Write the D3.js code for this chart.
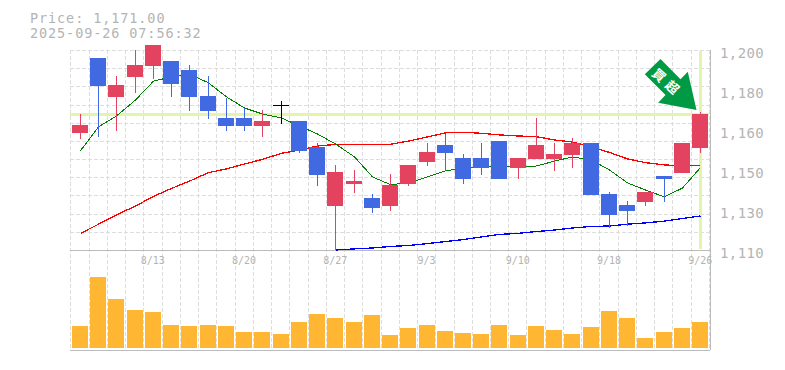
<!DOCTYPE html>
<html>
<head>
<meta charset="utf-8">
<script src="https://cdn.jsdelivr.net/npm/d3@7"></script>
<style>
  html, body { margin: 0; padding: 0; background: #fff; overflow: hidden; }
  text { font-family: "DejaVu Sans Mono", monospace; fill: #bbb; }
</style>
</head>
<body>
<div class="canvas"></div>
<script>
const dates = ['8/6','8/7','8/8','8/12','8/13','8/14','8/15','8/18','8/19','8/20','8/21','8/22','8/25','8/26','8/27','8/28','8/29','9/1','9/2','9/3','9/4','9/5','9/8','9/9','9/10','9/11','9/12','9/16','9/17','9/18','9/19','9/22','9/24','9/25','9/26']
const opens = [1162.7,1196.4,1178.9,1187.9,1192.8,1195,1191,1179.3,1169.4,1169.4,1165.8,1175.1,1168.1,1156.4,1129.8,1139.7,1133.4,1129.8,1139.7,1149.6,1157.3,1151.4,1151.4,1159.1,1146.9,1151,1151,1152.8,1158.2,1135.2,1130.3,1131.6,1143.3,1144.7,1155.9]
const highs = [1171.2,1196.4,1188.3,1200,1202.3,1195,1193.3,1188.3,1178.4,1173.9,1173,1177,1168.1,1158.2,1148.3,1146,1135.2,1144.2,1148.3,1158.2,1162.2,1153.2,1158.2,1159.1,1151.4,1169.4,1158.2,1160.4,1158.2,1136.1,1132.1,1136.1,1143.3,1158.2,1172.1]
const lows = [1160,1161,1163.7,1180.7,1187,1178.9,1172.6,1169,1163.6,1163.7,1161,1166.7,1153.7,1138.8,1110,1135.7,1126.7,1127.6,1138.8,1147.8,1145.6,1139.7,1143.8,1142,1142,1151,1145.6,1146.9,1134.8,1119.9,1120.8,1129.8,1131.6,1144.7,1153.7]
const closes = [1166.3,1183.8,1184.3,1193.3,1202.3,1184.7,1178.9,1172.6,1165.8,1165.8,1168.1,1175.1,1154.6,1143.8,1145.1,1141.1,1128.9,1139.3,1148.3,1154.1,1153.7,1142,1146.9,1142,1151.4,1157.3,1153.2,1158.2,1134.8,1125.8,1127.6,1136.1,1142,1158.2,1171.2]
const maShort = [1154.7,1165.4,1170.3,1177.5,1186,1187.9,1189.2,1185.2,1178.9,1173.9,1171.2,1169.4,1165.8,1162.2,1157.7,1151.9,1142.9,1139.4,1140.2,1142.9,1145.6,1146.9,1147.4,1147.4,1147.5,1147.8,1150,1151.9,1150.5,1146,1140.2,1137,1133.9,1137.9,1147.1]
const maMid = [1117.5,1121.6,1125.8,1129.8,1134.1,1137.7,1141,1144.8,1146.5,1148.7,1150.8,1153.5,1155,1156.8,1157.5,1157.5,1157.5,1157.6,1159,1160.9,1162.7,1163,1162.5,1161.8,1161.3,1161,1159.5,1158.6,1156.4,1153.9,1151,1149.3,1148.3,1147.8,1148.1]
const maLong = [null,null,null,null,null,null,null,null,null,null,null,null,null,null,1110,1110.5,1110.9,1111.6,1112,1112.9,1113.8,1114.7,1115.9,1117,1117.5,1118.3,1119,1119.9,1120.6,1120.8,1121.6,1122.2,1123,1124.2,1125.3]
const volumes = [2200,7100,4900,3800,3600,2300,2200,2300,2200,1600,1600,1400,2600,3400,3000,2600,3300,1300,2000,2300,1700,1500,1400,2300,1300,2200,1800,1400,2100,3700,3000,1000,1600,2000,2600]
const dateTicks = ['8/13','8/20','8/27','9/3','9/10','9/18','9/26']
const priceTicks = [1200,1182,1164,1146,1128,1110]
const priceLabels = ['1,200','1,180','1,160','1,150','1,130','1,110']
const lastPrice = 1171
const titleLines = ['Price: 1,171.00','2025-09-26 07:56:32']
const signalText = '買超'

const plot = {left: 70, right: 710, top: 50, bottom: 250, volBottom: 350}
const upColor = '#e3435f'
const downColor = '#4169e1'

const svg = d3.select('.canvas')
              .append('svg')
              .attr('width', 785)
              .attr('height', 370)
              .style('display', 'block')

const candles = dates.map((date, i) => ({date, open: opens[i], high: highs[i], low: lows[i], close: closes[i], volume: volumes[i]}))

//scales
const xScale = d3.scaleBand()
                 .domain(dates)
                 .range([plot.left, plot.right])
                 .paddingInner(0.125)
                 .paddingOuter(0.1)
const yScale = d3.scaleLinear()
                 .domain([1110, 1200])
                 .range([plot.bottom, plot.top])
const volScale = d3.scaleLinear()
                   .domain([0, d3.max(volumes)])
                   .range([348, 277])

const barLeft = d => Math.round(xScale(d))
const center = d => barLeft(d) + 8.5

//grid
const grid = svg.append('g')
                .attr('stroke', '#ddd')
                .attr('stroke-dasharray', '4,2')
                .attr('shape-rendering', 'crispEdges')

grid.selectAll('.v')
    .data(dates.concat(['end']))
    .enter().append('line')
    .attr('x1', (d, i) => Math.round(xScale(dates[0]) - 1.5 + i * xScale.step()) + 0.5)
    .attr('x2', (d, i) => Math.round(xScale(dates[0]) - 1.5 + i * xScale.step()) + 0.5)
    .attr('y1', plot.top)
    .attr('y2', plot.volBottom)

grid.selectAll('.h')
    .data(d3.range(0, 11))
    .enter().append('line')
    .attr('x1', plot.left)
    .attr('x2', plot.right)
    .attr('y1', d => Math.round(plot.top + d * (plot.bottom - plot.top) / 11) + 0.5)
    .attr('y2', d => Math.round(plot.top + d * (plot.bottom - plot.top) / 11) + 0.5)

//current price highlight
svg.append('line')
   .attr('x1', plot.left)
   .attr('x2', plot.right - 1)
   .attr('y1', yScale(lastPrice))
   .attr('y2', yScale(lastPrice))
   .attr('stroke', '#e2f5a8')
   .attr('stroke-width', 3)
   .attr('shape-rendering', 'crispEdges')
svg.append('line')
   .attr('x1', center(dates[dates.length - 1]))
   .attr('x2', center(dates[dates.length - 1]))
   .attr('y1', plot.top + 1)
   .attr('y2', plot.bottom - 1)
   .attr('stroke', '#e2f5a8')
   .attr('stroke-width', 3)
   .attr('shape-rendering', 'crispEdges')

//frame
const frame = svg.append('g')
                 .attr('stroke', '#bbb')
                 .attr('shape-rendering', 'crispEdges')
frame.append('line').attr('x1', plot.left).attr('x2', plot.right).attr('y1', plot.bottom + 0.5).attr('y2', plot.bottom + 0.5)
frame.append('line').attr('x1', plot.left).attr('x2', plot.right).attr('y1', plot.volBottom + 0.5).attr('y2', plot.volBottom + 0.5)
frame.append('line').attr('x1', plot.right + 0.5).attr('x2', plot.right + 0.5).attr('y1', plot.top).attr('y2', plot.volBottom)

//moving averages
const line = d3.line()
               .defined(d => d.value !== null)
               .x(d => center(d.date))
               .y(d => yScale(d.value))

const maSeries = [
    {values: maMid, color: '#f00', width: 1.3},
    {values: maLong, color: '#00f', width: 1.3},
    {values: maShort, color: '#008000', width: 1}
]
svg.selectAll('.ma')
   .data(maSeries)
   .enter().append('path')
   .attr('fill', 'none')
   .attr('stroke', d => d.color)
   .attr('stroke-width', d => d.width)
   .attr('shape-rendering', 'crispEdges')
   .attr('d', d => line(d.values.map((value, i) => ({date: dates[i], value}))))

//candles
const candleColor = d => d.close === d.open ? '#000' : (d.close > d.open ? upColor : downColor)

svg.selectAll('.wick')
   .data(candles)
   .enter().append('line')
   .attr('x1', d => center(d.date))
   .attr('x2', d => center(d.date))
   .attr('y1', d => yScale(d.high))
   .attr('y2', d => yScale(d.low))
   .attr('stroke', candleColor)
   .attr('shape-rendering', 'crispEdges')

svg.selectAll('.body')
   .data(candles)
   .enter().append('rect')
   .attr('x', d => barLeft(d.date))
   .attr('width', 16)
   .attr('y', d => Math.round(yScale(Math.max(d.open, d.close))))
   .attr('height', d => Math.max(1, Math.round(yScale(Math.min(d.open, d.close)) - yScale(Math.max(d.open, d.close)))))
   .attr('fill', candleColor)
   .attr('shape-rendering', 'crispEdges')

//volume
svg.selectAll('.vol')
   .data(candles)
   .enter().append('rect')
   .attr('x', d => barLeft(d.date))
   .attr('width', 16)
   .attr('y', d => volScale(d.volume))
   .attr('height', d => volScale(0) - volScale(d.volume))
   .attr('fill', '#ffb733')
   .attr('shape-rendering', 'crispEdges')

//axes
const xAxis = d3.axisBottom(xScale)
                .tickValues(dateTicks)
                .tickSize(0)
                .tickPadding(7)
const yAxis = d3.axisRight(yScale)
                .tickValues(priceTicks)
                .tickSize(0)
                .tickPadding(10)
                .tickFormat((d, i) => priceLabels[i])

const xAxisGroup = svg.append('g')
                      .attr('transform', `translate(0, ${plot.bottom})`)
                      .call(xAxis)
const yAxisGroup = svg.append('g')
                      .attr('transform', `translate(${plot.right}, 0)`)
                      .call(yAxis)
xAxisGroup.select('.domain').remove()
yAxisGroup.select('.domain').remove()
xAxisGroup.selectAll('text')
          .style('font-family', '"DejaVu Sans Mono", monospace')
          .style('font-size', '10px')
          .style('fill', '#b4b4b4')
yAxisGroup.selectAll('text')
          .style('font-family', '"DejaVu Sans Mono", monospace')
          .style('font-size', '14px')
          .style('letter-spacing', '0.4px')
          .style('fill', '#b4b4b4')
          .attr('dy', '0.55em')

//title
svg.selectAll('.title')
   .data(titleLines)
   .enter().append('text')
   .attr('x', 30)
   .attr('y', (d, i) => 23 + i * 15)
   .style('font-size', '13.5px')
   .style('letter-spacing', '0.9px')
   .style('fill', '#b4b4b4')
   .text(d => d)

//signal arrow, tip sits just above the last candle
const last = candles[candles.length - 1]
const tipX = center(last.date) - 4
const tipY = yScale(last.high) - 2
const arrow = svg.append('g')
                 .attr('transform', `translate(${tipX}, ${tipY})`)
arrow.append('path')
     .attr('d', 'M0,0 L-38.3,-7.3 L-31,-15 L-51.7,-35.7 L-36,-51 L-16,-30.7 L-8.7,-38.3 Z')
     .attr('fill', '#009a44')
arrow.append('text')
     .attr('transform', 'translate(-29, -27) rotate(42)')
     .attr('text-anchor', 'middle')
     .attr('dy', '0.36em')
     .style('font-family', '"Noto Sans CJK JP"')
     .style('font-weight', 700)
     .style('font-size', '13px')
     .style('letter-spacing', '5px')
     .style('fill', '#fff')
     .text(signalText)
</script>
</body>
</html>
